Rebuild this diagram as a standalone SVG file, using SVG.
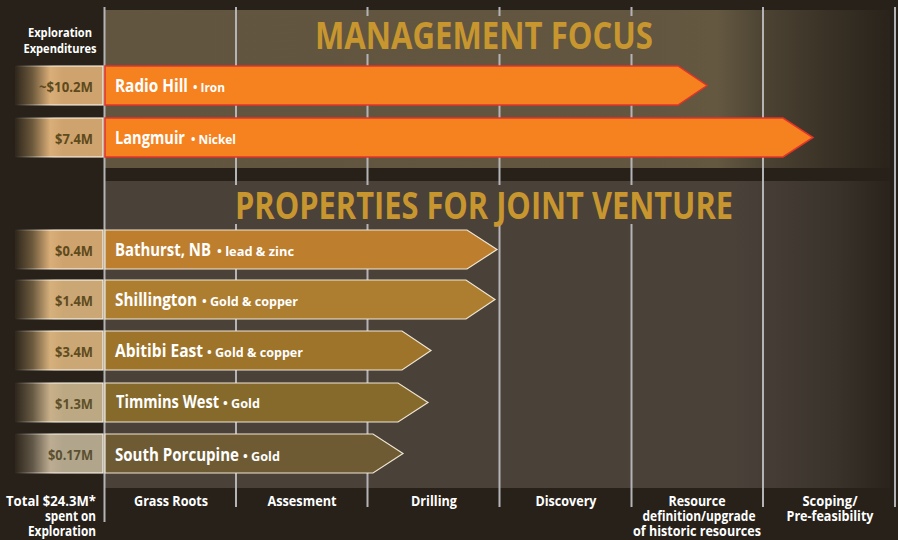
<svg xmlns="http://www.w3.org/2000/svg" width="898" height="540" viewBox="0 0 898 540">
<defs>
<linearGradient id="p1" gradientUnits="userSpaceOnUse" x1="105" y1="0" x2="890" y2="0">
<stop offset="0" stop-color="#615540"/>
<stop offset="0.69" stop-color="#625640"/>
<stop offset="0.78" stop-color="#645841"/>
<stop offset="0.84" stop-color="#4c4333"/>
<stop offset="0.92" stop-color="#3a3226"/>
<stop offset="1" stop-color="#29231b"/>
</linearGradient>
<linearGradient id="p2" gradientUnits="userSpaceOnUse" x1="105" y1="0" x2="890" y2="0">
<stop offset="0" stop-color="#4a4139"/>
<stop offset="0.8" stop-color="#4a4139"/>
<stop offset="0.85" stop-color="#443c35"/>
<stop offset="0.93" stop-color="#3a332c"/>
<stop offset="1" stop-color="#29231c"/>
</linearGradient>
<linearGradient id="v1" gradientUnits="userSpaceOnUse" x1="15" y1="0" x2="103" y2="0">
<stop offset="0" stop-color="#2e261c"/>
<stop offset="0.2" stop-color="#6e5a3c"/>
<stop offset="0.4" stop-color="#d9ae78"/>
<stop offset="0.55" stop-color="#cfa36d"/>
<stop offset="1" stop-color="#cfa36d"/>
</linearGradient>
<linearGradient id="v2" gradientUnits="userSpaceOnUse" x1="15" y1="0" x2="103" y2="0">
<stop offset="0" stop-color="#2e261c"/>
<stop offset="0.2" stop-color="#6c5a3e"/>
<stop offset="0.4" stop-color="#d6b07c"/>
<stop offset="0.55" stop-color="#cba775"/>
<stop offset="1" stop-color="#cba775"/>
</linearGradient>
<linearGradient id="v3" gradientUnits="userSpaceOnUse" x1="15" y1="0" x2="103" y2="0">
<stop offset="0" stop-color="#2e261c"/>
<stop offset="0.2" stop-color="#675a44"/>
<stop offset="0.4" stop-color="#c8b08a"/>
<stop offset="0.55" stop-color="#bca984"/>
<stop offset="1" stop-color="#bca984"/>
</linearGradient>
<linearGradient id="v4" gradientUnits="userSpaceOnUse" x1="15" y1="0" x2="103" y2="0">
<stop offset="0" stop-color="#2e261c"/>
<stop offset="0.2" stop-color="#625848"/>
<stop offset="0.4" stop-color="#bcac92"/>
<stop offset="0.55" stop-color="#b1a58c"/>
<stop offset="1" stop-color="#b1a58c"/>
</linearGradient>
<linearGradient id="edge" gradientUnits="userSpaceOnUse" x1="15" y1="0" x2="103" y2="0">
<stop offset="0" stop-color="#ffffff" stop-opacity="0"/>
<stop offset="0.45" stop-color="#fff8ec" stop-opacity="0.85"/>
<stop offset="1" stop-color="#fff8ec" stop-opacity="0.9"/>
</linearGradient>
</defs>
<style>
.t{font-family:"Open Sans","Noto Sans","Liberation Sans",sans-serif;font-weight:700;fill:#ffffff}
.title{font-family:"Open Sans","Noto Sans","Liberation Sans",sans-serif;font-weight:700;fill:#c8962f;font-size:38px}
.lab{font-size:17.5px}
.sm{font-size:13px}
.val{font-family:"Open Sans","Noto Sans","Liberation Sans",sans-serif;font-weight:700;font-size:14px;text-anchor:end}
.bot{font-size:14.5px;text-anchor:middle}
.end{text-anchor:end}
.hdr{font-size:12.5px;text-anchor:middle}
.grid line{stroke:#b4b4b6;stroke-width:2}
.box{stroke:url(#edge);stroke-width:1.2}
.hot{fill:#f5821f;stroke:#e5322a;stroke-width:1.5}
.jv{stroke:#efe6d4;stroke-width:1.2}
</style>
<rect width="898" height="540" fill="#27211a"/>
<g id="panel-management">
<rect x="105" y="10" width="785" height="158" fill="url(#p1)"/>
</g>
<g id="panel-jv">
<rect x="105" y="181" width="785" height="307" fill="url(#p2)"/>
</g>
<g id="grid" class="grid">
<line x1="104.5" y1="7" x2="104.5" y2="522"/>
<line x1="236" y1="7" x2="236" y2="185"/>
<line x1="236" y1="224" x2="236" y2="507"/>
<line x1="367.5" y1="7" x2="367.5" y2="16"/>
<line x1="367.5" y1="54" x2="367.5" y2="185"/>
<line x1="367.5" y1="224" x2="367.5" y2="507"/>
<line x1="499.5" y1="7" x2="499.5" y2="16"/>
<line x1="499.5" y1="54" x2="499.5" y2="185"/>
<line x1="499.5" y1="224" x2="499.5" y2="507"/>
<line x1="631.5" y1="7" x2="631.5" y2="16"/>
<line x1="631.5" y1="54" x2="631.5" y2="185"/>
<line x1="631.5" y1="224" x2="631.5" y2="507"/>
<line x1="763" y1="7" x2="763" y2="507"/>
<line x1="895" y1="7" x2="895" y2="507"/>
</g>
<text class="title" x="315" y="49" textLength="338" lengthAdjust="spacingAndGlyphs">MANAGEMENT FOCUS</text>
<text class="title" x="235" y="219" style="font-size:37px" textLength="498" lengthAdjust="spacingAndGlyphs">PROPERTIES FOR JOINT VENTURE</text>
<g id="header">
<text class="t hdr" x="60" y="37" textLength="64" lengthAdjust="spacingAndGlyphs">Exploration</text>
<text class="t hdr" x="60" y="53" textLength="73" lengthAdjust="spacingAndGlyphs">Expenditures</text>
</g>
<g id="radio-hill">
<rect class="box" x="15" y="66" width="88" height="39" fill="url(#v1)"/>
<text class="val" x="93" y="92" fill="#5e4a1c" textLength="54" lengthAdjust="spacingAndGlyphs">~$10.2M</text>
<path class="hot" d="M105,66 H678 L707,85.5 L678,105 H105 Z"/>
<text class="t lab" x="115" y="92" textLength="73" lengthAdjust="spacingAndGlyphs">Radio Hill</text>
<text class="t sm" x="193" y="92" textLength="32" lengthAdjust="spacingAndGlyphs">• Iron</text>
</g>
<g id="langmuir">
<rect class="box" x="15" y="118" width="88" height="39" fill="url(#v1)"/>
<text class="val" x="93" y="144" fill="#5e4a1c" textLength="38" lengthAdjust="spacingAndGlyphs">$7.4M</text>
<path class="hot" d="M105,118 H783 L813,137.5 L783,157 H105 Z"/>
<text class="t lab" x="115" y="144" textLength="70" lengthAdjust="spacingAndGlyphs">Langmuir</text>
<text class="t sm" x="191" y="144" textLength="45" lengthAdjust="spacingAndGlyphs">• Nickel</text>
</g>
<g id="bathurst">
<rect class="box" x="15" y="230" width="88" height="39" fill="url(#v1)"/>
<text class="val" x="93" y="256" fill="#5e4a1c" textLength="38" lengthAdjust="spacingAndGlyphs">$0.4M</text>
<path class="jv" fill="#bd7e2e" d="M105,230 H467 L497,249.5 L467,269 H105 Z"/>
<text class="t lab" x="115" y="256" textLength="96" lengthAdjust="spacingAndGlyphs">Bathurst, NB</text>
<text class="t sm" x="217" y="256" textLength="77" lengthAdjust="spacingAndGlyphs">• lead &amp; zinc</text>
</g>
<g id="shillington">
<rect class="box" x="15" y="280" width="88" height="39" fill="url(#v2)"/>
<text class="val" x="93" y="306" fill="#5e4c20" textLength="38" lengthAdjust="spacingAndGlyphs">$1.4M</text>
<path class="jv" fill="#ad7e30" d="M105,280 H466 L495,299.5 L466,319 H105 Z"/>
<text class="t lab" x="115" y="306" textLength="82" lengthAdjust="spacingAndGlyphs">Shillington</text>
<text class="t sm" x="202" y="306" textLength="96" lengthAdjust="spacingAndGlyphs">• Gold &amp; copper</text>
</g>
<g id="abitibi-east">
<rect class="box" x="15" y="331" width="88" height="39" fill="url(#v2)"/>
<text class="val" x="93" y="357" fill="#5e4c20" textLength="38" lengthAdjust="spacingAndGlyphs">$3.4M</text>
<path class="jv" fill="#9e732a" d="M105,331 H402 L431,350.5 L402,370 H105 Z"/>
<text class="t lab" x="115" y="357" textLength="88" lengthAdjust="spacingAndGlyphs">Abitibi East</text>
<text class="t sm" x="207" y="357" textLength="96" lengthAdjust="spacingAndGlyphs">• Gold &amp; copper</text>
</g>
<g id="timmins-west">
<rect class="box" x="15" y="383" width="88" height="39" fill="url(#v3)"/>
<text class="val" x="93" y="409" fill="#5e5028" textLength="38" lengthAdjust="spacingAndGlyphs">$1.3M</text>
<path class="jv" fill="#866a2b" d="M105,383 H398 L428,402.5 L398,422 H105 Z"/>
<text class="t lab" x="116" y="408" textLength="103" lengthAdjust="spacingAndGlyphs">Timmins West</text>
<text class="t sm" x="223" y="408" textLength="37" lengthAdjust="spacingAndGlyphs">• Gold</text>
</g>
<g id="south-porcupine">
<rect class="box" x="15" y="434" width="88" height="39" fill="url(#v4)"/>
<text class="val" x="93" y="460" fill="#5a5030" textLength="45" lengthAdjust="spacingAndGlyphs">$0.17M</text>
<path class="jv" fill="#6e5b33" d="M105,434 H373 L403,453.5 L373,473 H105 Z"/>
<text class="t lab" x="115" y="461" textLength="124" lengthAdjust="spacingAndGlyphs">South Porcupine</text>
<text class="t sm" x="243" y="461" textLength="37" lengthAdjust="spacingAndGlyphs">• Gold</text>
</g>
<g id="footer">
<text class="t bot end" x="96" y="506" textLength="90" lengthAdjust="spacingAndGlyphs">Total $24.3M*</text>
<text class="t bot end" x="96" y="521" textLength="51" lengthAdjust="spacingAndGlyphs">spent on</text>
<text class="t bot end" x="96" y="536" textLength="68" lengthAdjust="spacingAndGlyphs">Exploration</text>
<text class="t bot" x="171" y="506" textLength="74" lengthAdjust="spacingAndGlyphs">Grass Roots</text>
<text class="t bot" x="302" y="506" textLength="69" lengthAdjust="spacingAndGlyphs">Assesment</text>
<text class="t bot" x="434" y="506" textLength="46" lengthAdjust="spacingAndGlyphs">Drilling</text>
<text class="t bot" x="566" y="506" textLength="61" lengthAdjust="spacingAndGlyphs">Discovery</text>
<text class="t bot" x="697" y="506" textLength="57" lengthAdjust="spacingAndGlyphs">Resource</text>
<text class="t bot" x="699" y="521" textLength="113" lengthAdjust="spacingAndGlyphs">definition/upgrade</text>
<text class="t bot" x="697" y="536" textLength="128" lengthAdjust="spacingAndGlyphs">of historic resources</text>
<text class="t bot" x="830" y="506" textLength="55" lengthAdjust="spacingAndGlyphs">Scoping/</text>
<text class="t bot" x="830" y="521" textLength="87" lengthAdjust="spacingAndGlyphs">Pre-feasibility</text>
</g>
</svg>
